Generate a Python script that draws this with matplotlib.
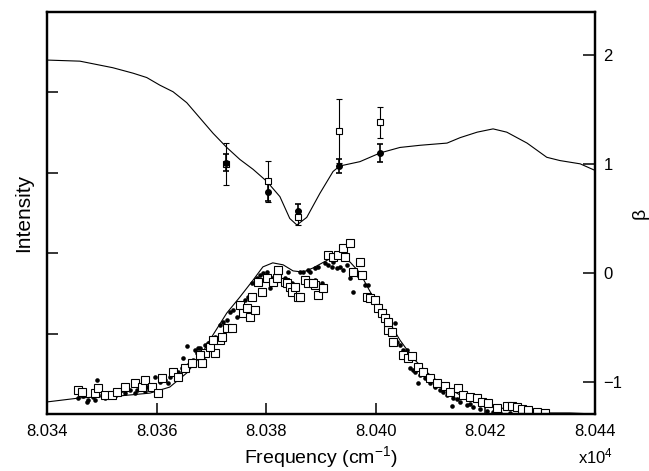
import matplotlib
matplotlib.use('Agg')
import matplotlib.pyplot as plt
from matplotlib.ticker import FixedLocator, FuncFormatter, NullFormatter

# frequencies in cm^-1, intensity in arbitrary units (0..100), beta on right axis
curve_freq = [80340.0, 80346.0, 80353.3, 80358.8, 80362.4, 80365.5, 80367.9,
              80370.3, 80372.8, 80375.2, 80377.6, 80379.4, 80381.2, 80383.1,
              80384.9, 80386.7, 80388.5, 80391.6, 80393.5, 80395.3, 80397.1,
              80399.5, 80402.0, 80404.4, 80406.8, 80409.3, 80411.7, 80415.4,
              80419.0, 80422.7, 80430.0, 80435.4, 80440.0]
curve_int = [3.0, 4.0, 4.5, 5.2, 6.7, 10.2, 14.2, 19.7, 25.1, 29.1, 33.3, 36.6,
             37.6, 37.1, 35.6, 35.3, 36.3, 38.6, 39.1, 37.8, 35.1, 29.1, 23.9,
             18.4, 13.9, 10.4, 7.7, 4.7, 2.7, 1.5, 0.25, 0.25, 0.0]

dot_freq = [80347.3, 80345.7, 80347.5, 80348.4, 80349.1, 80350.0, 80351.1,
            80352.0, 80353.0, 80354.2, 80355.1, 80356.4, 80357.3, 80358.2,
            80359.2, 80359.7, 80360.6, 80361.5, 80362.4, 80363.4, 80363.9,
            80364.6, 80364.8, 80365.5, 80365.7, 80366.6, 80367.4, 80367.9,
            80368.8, 80369.7, 80346.6, 80348.8, 80350.6, 80352.4, 80353.7,
            80356.1, 80357.9, 80362.1, 80364.3,
            80367.0, 80367.6, 80368.5, 80369.2, 80369.4, 80370.1, 80370.7,
            80371.6, 80372.1, 80372.8, 80373.4, 80373.9, 80374.7, 80375.2,
            80376.1, 80376.7, 80377.4, 80378.0, 80378.3, 80378.9, 80379.4,
            80380.1, 80380.7, 80381.1, 80382.0, 80382.5, 80383.4, 80384.0,
            80384.7, 80385.6, 80386.2, 80387.1, 80387.6, 80388.4, 80388.9,
            80386.7, 80387.4, 80388.0, 80388.9, 80389.5, 80390.2, 80390.7,
            80391.3, 80392.0, 80392.2, 80392.9, 80393.5, 80394.0, 80394.7,
            80395.3, 80395.8, 80396.2, 80396.8, 80397.5, 80398.0, 80398.6,
            80398.9, 80399.5, 80400.2, 80400.8, 80401.3, 80402.0, 80402.6,
            80403.5, 80403.9, 80404.4, 80405.0, 80405.7, 80406.2, 80406.8,
            80407.7, 80408.1, 80409.0, 80409.9, 80410.8, 80411.7, 80413.0,
            80413.9, 80414.1, 80415.4, 80416.6, 80417.7, 80419.0, 80420.3,
            80421.4, 80422.7, 80424.5, 80407.2, 80409.5, 80412.3, 80414.8,
            80417.2]
dot_int = [3.0, 4.0, 3.5, 4.2, 8.5, 4.7, 5.2, 5.2, 5.5, 5.2, 6.0, 6.0, 6.5,
           6.7, 7.2, 9.2, 8.0, 8.5, 9.2, 10.2, 10.4, 11.4, 13.9, 16.9, 12.2,
           13.4, 15.2, 16.4, 17.2, 17.9, 4.5, 3.5, 4.0, 4.5, 6.0, 5.2, 5.7,
           7.7, 9.7,
           15.9, 16.4, 14.2, 15.2, 17.7, 18.9, 19.2, 22.1, 22.9, 23.4, 25.4,
           25.9, 24.1, 27.1, 28.4, 29.1, 32.6, 32.8, 33.8, 34.6, 35.1, 35.3,
           31.3, 33.8, 35.1, 35.3, 33.8, 35.3, 32.6, 31.6, 35.3, 32.6, 35.8,
           32.8, 33.3,
           35.3, 32.1, 35.3, 36.3, 36.6, 32.6, 37.6, 37.1, 36.6, 37.8, 36.3,
           36.6, 35.8, 37.1, 33.8, 30.4, 35.3, 34.6, 34.6, 32.1, 32.1, 29.1,
           27.9, 25.9, 25.1, 23.9, 22.6, 21.6, 22.6, 17.9, 17.2, 15.9, 15.9,
           11.4, 10.9, 7.7, 9.7, 9.0, 7.7, 6.7, 6.0, 4.7, 2.0, 4.0, 3.0, 2.2,
           1.7, 1.2, 0.7, 0.5, 0.25, 0.25, 10.4, 8.5, 5.5, 3.7, 2.5]

sq_freq = [80345.7, 80346.4, 80348.8, 80349.3, 80350.6, 80351.9, 80352.8,
           80354.2, 80356.1, 80357.3, 80357.9, 80359.2, 80360.3, 80361.0,
           80363.0, 80363.9, 80365.2, 80366.5, 80368.3, 80368.8, 80370.7,
           80371.6, 80367.9, 80369.7, 80370.3, 80371.9, 80372.8, 80373.8,
           80375.2, 80375.8, 80376.5, 80377.0, 80378.0, 80377.4, 80378.5,
           80379.2, 80380.1, 80381.2, 80382.0, 80382.2, 80383.4, 80383.8,
           80384.3, 80384.7, 80385.3, 80385.8, 80387.1, 80387.6, 80388.9,
           80389.5, 80386.2, 80388.5, 80390.4, 80391.3, 80392.2, 80393.1,
           80394.0, 80394.4, 80395.3, 80397.1, 80395.8, 80397.5, 80398.4,
           80398.9, 80399.9, 80400.4, 80401.1, 80401.7, 80402.2, 80402.2,
           80403.0, 80403.1, 80405.0, 80405.9, 80406.6, 80407.7, 80408.6,
           80409.9, 80411.2, 80412.6, 80413.5, 80415.0, 80415.9, 80417.2,
           80418.5, 80419.4, 80420.5, 80422.1, 80423.9, 80424.9, 80425.8,
           80426.7, 80427.8, 80429.4, 80430.9]
sq_int = [6.0, 5.5, 5.2, 6.5, 4.7, 4.7, 5.5, 6.7, 7.7, 6.7, 8.5, 6.7, 5.2,
          9.0, 10.4, 9.2, 11.4, 12.7, 12.7, 15.2, 15.2, 18.4, 14.7, 16.7,
          18.4, 19.2, 21.4, 21.4, 27.1, 25.1, 26.4, 24.1, 25.9, 29.1, 32.8,
          30.4, 33.8, 32.8, 33.8, 35.8, 32.8, 32.6, 31.6, 30.4, 31.6, 29.1,
          33.3, 32.6, 32.1, 29.6, 29.1, 32.6, 31.3, 39.6, 39.1, 39.6, 41.3,
          39.1, 42.5, 37.8, 35.3, 34.6, 29.1, 28.9, 28.4, 26.4, 25.1, 23.9,
          20.9, 22.9, 20.4, 17.9, 14.7, 13.9, 14.4, 11.7, 10.4, 9.0, 7.7, 7.0,
          5.5, 6.5, 4.7, 4.2, 4.0, 3.0, 2.7, 1.5, 2.0, 2.0, 1.7, 1.2, 1.0,
          0.5, 0.25]

beta_curve_freq = [80340.0, 80346.0, 80352.0, 80355.7, 80358.2, 80360.6,
                   80363.0, 80365.5, 80367.9, 80370.3, 80372.8, 80375.2,
                   80377.6, 80380.1, 80382.5, 80384.3, 80385.6, 80387.4,
                   80389.8, 80392.2, 80393.4, 80397.1, 80400.8, 80404.4,
                   80408.1, 80413.0, 80415.4, 80418.5, 80421.4, 80423.9,
                   80427.6, 80431.2, 80433.6, 80437.3, 80440.0]
beta_curve = [1.95, 1.94, 1.88, 1.83, 1.79, 1.72, 1.66, 1.56, 1.42, 1.28,
              1.15, 1.04, 0.95, 0.84, 0.70, 0.50, 0.44, 0.51, 0.73, 0.93,
              0.98, 1.02, 1.10, 1.15, 1.17, 1.19, 1.24, 1.29, 1.32, 1.29,
              1.19, 1.06, 1.03, 1.00, 0.94]

beta_freq = [80372.7, 80380.3, 80385.8, 80393.3, 80400.8]
beta_open = [1.00, 0.84, 0.51, 1.30, 1.38]
beta_open_err = [0.19, 0.19, 0.07, 0.29, 0.14]
beta_filled = [1.01, 0.74, 0.57, 0.98, 1.10]
beta_filled_err = [0.08, 0.08, 0.06, 0.06, 0.08]

freq_ticks = [80340, 80360, 80380, 80400, 80420, 80440]
int_ticks = [20, 40, 60, 80]
beta_ticks = [-1, 0, 1, 2]


def main():
    plt.rcParams['font.family'] = ['Liberation Sans', 'DejaVu Sans']
    plt.rcParams['mathtext.fontset'] = 'custom'
    plt.rcParams['mathtext.rm'] = 'Liberation Sans'
    plt.rcParams['mathtext.it'] = 'Liberation Sans'

    fig = plt.figure(figsize=(6.49, 4.71), dpi=100)
    ax = fig.add_axes([47 / 649, 57 / 471, 548 / 649, 402 / 471])
    ax2 = ax.twinx()

    ax.plot(curve_freq, curve_int, color='black', lw=0.8)
    ax.plot(dot_freq, dot_int, 'o', color='black', ms=3.3, mew=0)
    ax.plot(sq_freq, sq_int, 's', mfc='white', mec='black', ms=5.2, mew=0.8)

    ax2.plot(beta_curve_freq, beta_curve, color='black', lw=0.8)
    ax2.errorbar(beta_freq, beta_open, yerr=beta_open_err, fmt='s',
                 mfc='white', mec='black', ecolor='black', ms=5, mew=0.8,
                 elinewidth=0.8, capsize=2.5, capthick=0.8)
    ax2.errorbar(beta_freq, beta_filled, yerr=beta_filled_err, fmt='o',
                 color='black', ms=4, elinewidth=1.2, capsize=2.5,
                 capthick=1.2)

    ax.set_xlim(80340, 80440)
    ax.set_ylim(0, 100)
    ax2.set_ylim(-1.29, 2.39)

    ax.xaxis.set_major_locator(FixedLocator(freq_ticks))
    ax.xaxis.set_major_formatter(FuncFormatter(lambda v, p: '%.3f' % (v / 1e4)))
    ax.yaxis.set_major_locator(FixedLocator(int_ticks))
    ax.yaxis.set_major_formatter(NullFormatter())
    ax2.yaxis.set_major_locator(FixedLocator(beta_ticks))

    ax.tick_params(axis='both', direction='in', length=8, width=1.1,
                   labelsize=12, pad=7)
    ax.tick_params(axis='y', right=False)
    ax2.tick_params(axis='y', direction='in', length=9, width=1.1,
                    labelsize=12, pad=6)

    for a in (ax, ax2):
        for s in a.spines.values():
            s.set_linewidth(1.6)

    ax.set_xlabel('Frequency (cm$^{-1}$)', fontsize=14, labelpad=4)
    ax.set_ylabel('Intensity', fontsize=15, labelpad=3)
    ax2.set_ylabel('\u03b2', fontsize=14, rotation=90, labelpad=7)
    ax.text(0.969, -0.105, 'x10$^4$', transform=ax.transAxes, fontsize=12,
            ha='left', va='center')

    fig.savefig('out.png', dpi=100)


if __name__ == '__main__':
    main()
